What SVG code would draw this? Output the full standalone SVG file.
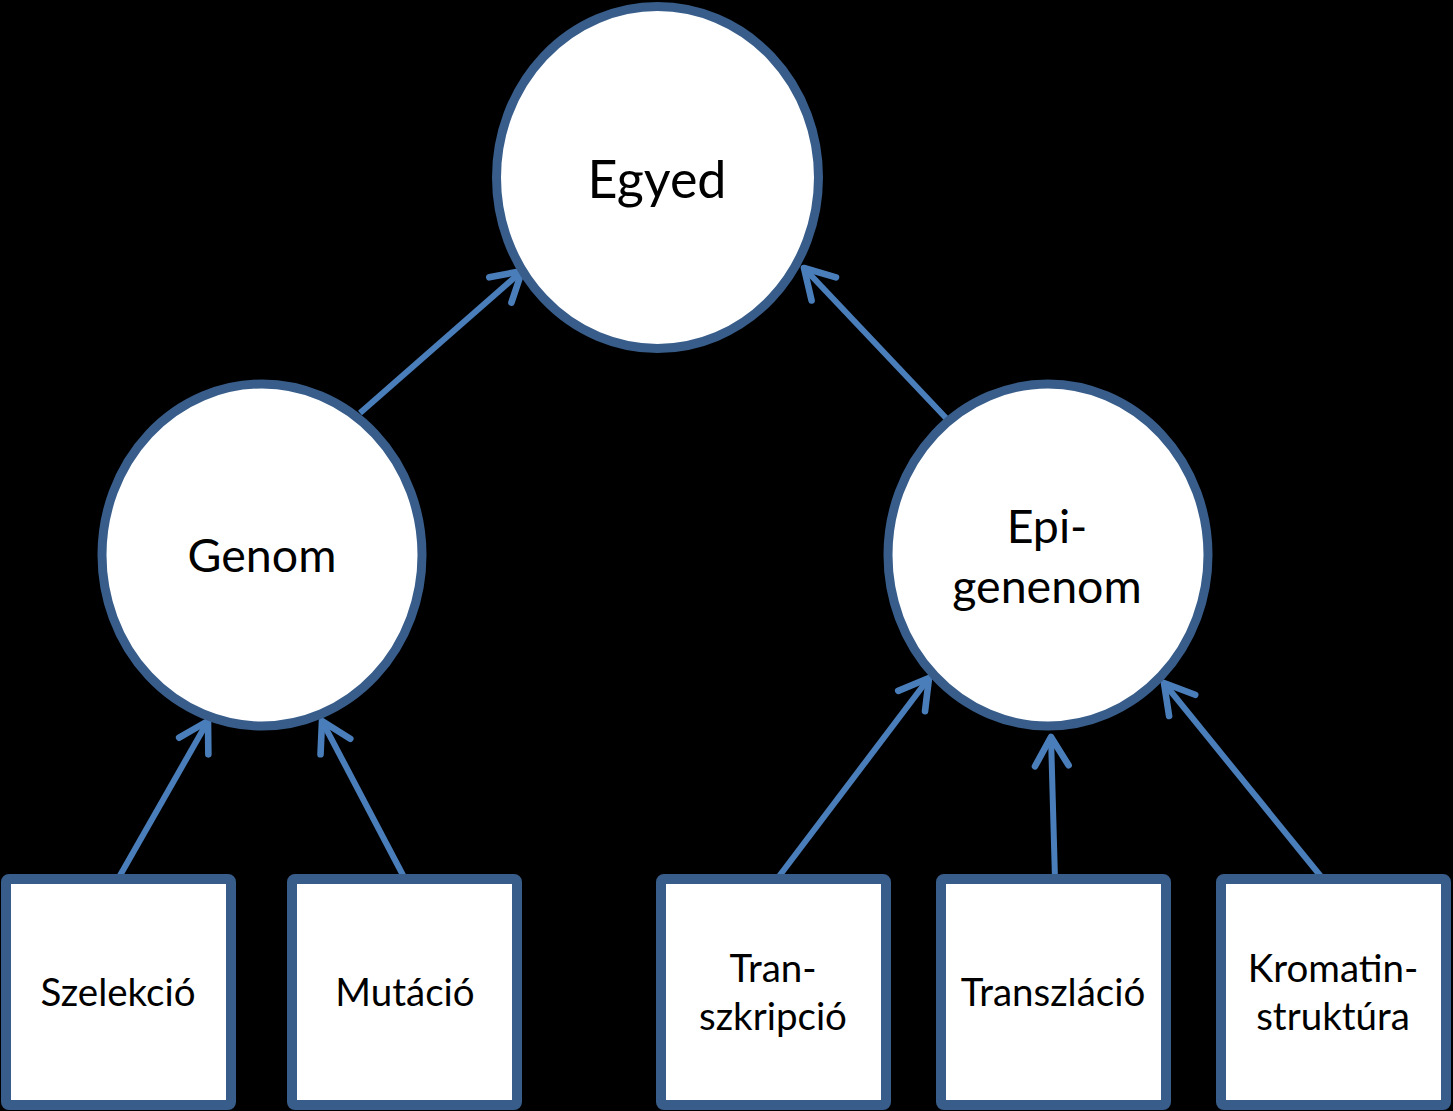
<svg xmlns="http://www.w3.org/2000/svg" width="1453" height="1111" viewBox="0 0 1453 1111">
<style>
.node{fill:#fff;stroke:#385D8A;stroke-width:9}
.box{fill:#fff;stroke:#385D8A;stroke-width:10}
.t{font-family:Lato,"Open Sans",sans-serif;fill:#000;text-anchor:middle}
.big{font-size:52px}
.mid{font-size:46.5px}
.sm{font-size:38.5px}
.conn{stroke:#4A7EBB;stroke-width:6;fill:none;marker-end:url(#arr)}
</style>
<defs>
<marker id="arr" viewBox="-8 -7 10 14" refX="0" refY="0" markerWidth="10" markerHeight="14" markerUnits="strokeWidth" orient="auto" overflow="visible">
<path d="M-4.8,-2.8 L0,0 L-4.8,2.8" fill="none" stroke="#4A7EBB" stroke-width="1.1" stroke-linecap="round" stroke-linejoin="round"/>
</marker>
</defs>
<rect width="1453" height="1111" fill="#000"/>
<g id="connectors">
<line class="conn" x1="360" y1="413" x2="522" y2="271"/>
<line class="conn" x1="946" y1="418" x2="804" y2="268"/>
<line class="conn" x1="118" y1="879" x2="208" y2="721"/>
<line class="conn" x1="405" y1="879" x2="322" y2="721"/>
<line class="conn" x1="777" y1="879" x2="929" y2="678"/>
<line class="conn" x1="1055" y1="879" x2="1051" y2="737"/>
<line class="conn" x1="1323" y1="879" x2="1164" y2="683"/>
</g>
<g id="egyed">
<ellipse class="node" cx="657.5" cy="177.5" rx="161" ry="171"/>
<text class="t big" x="657" y="198">Egyed</text>
</g>
<g id="genom">
<ellipse class="node" cx="262" cy="555" rx="160" ry="171"/>
<text class="t mid" x="262" y="572">Genom</text>
</g>
<g id="epigenom">
<ellipse class="node" cx="1048" cy="555" rx="160" ry="171"/>
<text class="t mid" x="1047" y="543">Epi-</text>
<text class="t mid" x="1047" y="603">genenom</text>
</g>
<g id="szelekcio">
<rect class="box" x="6" y="879" width="225" height="226" rx="3"/>
<text class="t sm" x="118" y="1006">Szelekció</text>
</g>
<g id="mutacio">
<rect class="box" x="292" y="879" width="225" height="226" rx="3"/>
<text class="t sm" x="405" y="1006">Mutáció</text>
</g>
<g id="transzkripcio">
<rect class="box" x="661" y="879" width="225" height="226" rx="3"/>
<text class="t sm" x="773" y="982">Tran-</text>
<text class="t sm" x="773" y="1030">szkripció</text>
</g>
<g id="transzlacio">
<rect class="box" x="941" y="879" width="225" height="226" rx="3"/>
<text class="t sm" x="1053" y="1006">Transzláció</text>
</g>
<g id="kromatin">
<rect class="box" x="1221" y="879" width="225" height="226" rx="3"/>
<text class="t sm" x="1333" y="982">Kromatin-</text>
<text class="t sm" x="1333" y="1030">struktúra</text>
</g>
</svg>
